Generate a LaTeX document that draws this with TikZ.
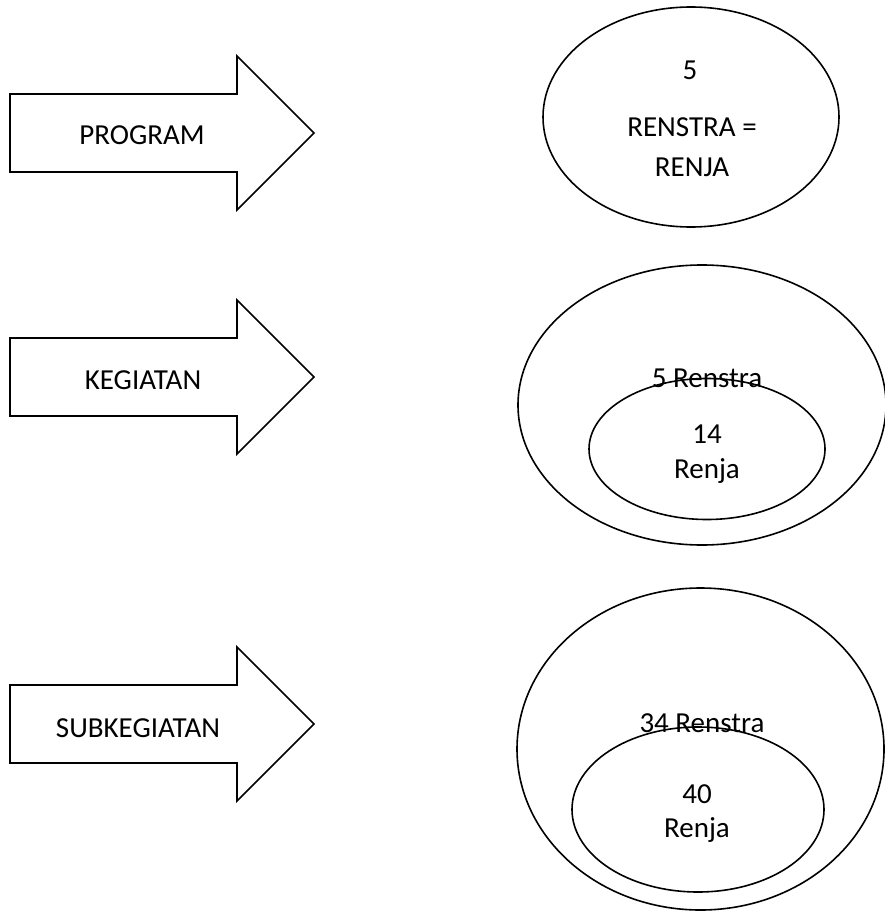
\documentclass[tikz,border=0pt]{standalone}
\usepackage{fontspec}
\setmainfont{Carlito}
\usetikzlibrary{shapes.geometric}
\begin{document}
\begin{tikzpicture}[x=1pt,y=-1pt,
  outline/.style={draw=black,line width=1.6pt,line join=miter},
  oval/.style={ellipse,draw=black,line width=1.6pt,inner sep=0pt},
  lbl/.style={anchor=base,inner sep=0pt,font=\fontsize{29}{35}\selectfont}]
\useasboundingbox (0,0) rectangle (885,912);

% block arrows: shaft from x=10 to 237, head to the tip at x=314
\foreach \n/\t in {a1/56, a2/300, a3/647}{
  \draw[outline] (10,\t+38) -- (237,\t+38) -- (237,\t) -- (314,\t+77)
    -- (237,\t+154) -- (237,\t+116) -- (10,\t+116) -- cycle;
}
\node[lbl] (tprog) at (142,145) {PROGRAM};
\node[lbl] (tkeg)  at (143,389) {KEGIATAN};
\node[lbl] (tsub)  at (138,737) {SUBKEGIATAN};

% program level
\node[oval,minimum width=296pt,minimum height=220pt] (e1) at (691,117) {};
\node[lbl] (e1a) at (690,80)  {5};
\node[lbl] (e1b) at (692,137) {RENSTRA =};
\node[lbl] (e1c) at (692,177) {RENJA};

% kegiatan level
\node[oval,minimum width=368pt,minimum height=280pt] (e2) at (702,405) {};
\node[lbl] (e2t) at (707,387) {5 Renstra};
\node[oval,minimum width=236pt,minimum height=141pt] (e2i) at (707,449) {};
\node[lbl] (e2a) at (707,443) {14};
\node[lbl] (e2b) at (707,478) {Renja};

% subkegiatan level
\node[oval,minimum width=367pt,minimum height=322pt] (e3) at (700.5,749) {};
\node[lbl] (e3t) at (702,732) {34 Renstra};
\node[oval,minimum width=252pt,minimum height=165pt] (e3i) at (698,809.5) {};
\node[lbl] (e3a) at (697,803) {40};
\node[lbl] (e3b) at (697,837) {Renja};
\end{tikzpicture}
\end{document}
